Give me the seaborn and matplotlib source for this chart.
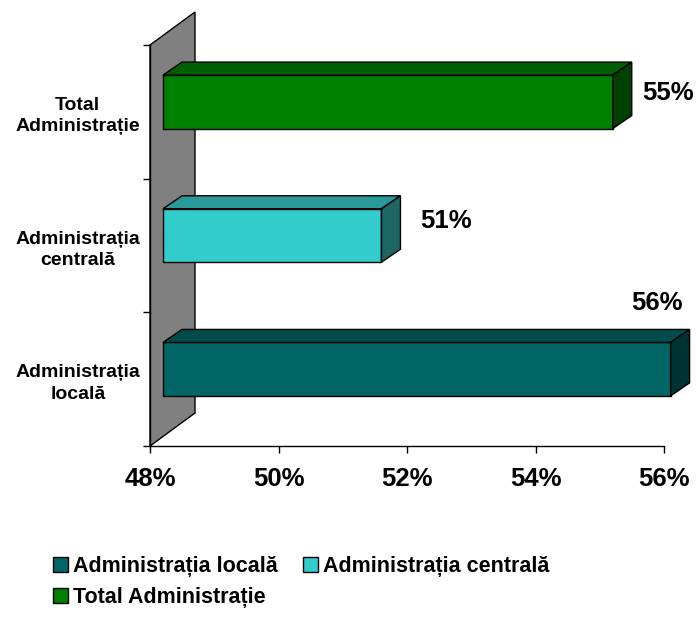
import matplotlib
matplotlib.use("Agg")
import matplotlib.pyplot as plt
import seaborn as sns
import pandas as pd
from matplotlib.patches import Polygon, Patch
from matplotlib.transforms import IdentityTransform, ScaledTranslation

categories = ["Total Administrație", "Administrația centrală", "Administrația locală"]
tick_labels = ["Total\nAdministrație", "Administrația\ncentrală", "Administrația\nlocală"]
values = [55.0, 51.4, 55.9]
value_labels = ["55%", "51%", "56%"]
x_ticks = [48, 50, 52, 54, 56]
legend_order = ["Administrația locală", "Total Administrație", "Administrația centrală"]

front_colors = ["#008000", "#33CCCC", "#006666"]
top_colors = ["#006000", "#299999", "#004C4C"]
side_colors = ["#004000", "#1E6666", "#003333"]

X_MIN, X_MAX = 48, 56
W, H = 696, 618

sns.set_style("white")
plt.rcParams["font.family"] = ["Liberation Sans", "DejaVu Sans"]
plt.rcParams["font.weight"] = "bold"
plt.rcParams["text.color"] = "black"
plt.rcParams["xtick.color"] = "black"
plt.rcParams["ytick.color"] = "black"

fig = plt.figure(figsize=(W / 100, H / 100), dpi=100)
ax = fig.add_axes([150 / W, 172 / H, 514 / W, 401 / H])

df = pd.DataFrame({"cat": categories, "val": values})
sns.barplot(data=df, x="val", y="cat", hue="cat", palette=front_colors, orient="h",
            width=0.4, legend=False, ax=ax, edgecolor="black", linewidth=1, saturation=1)

ax.set_xlim(X_MIN, X_MAX)
ax.set_ylim(2.5, -0.5)

# pseudo 3d: front face pushed into the wall, box depth in pixels
shift = (13, 10)
depth = (19, 13)
wall_depth = (45, 33)
ident = IdentityTransform()

bars = sorted(ax.patches, key=lambda p: p.get_y())
for i, p in enumerate(bars):
    p.set_width(p.get_width() - X_MIN)
    p.set_x(X_MIN)
    p.set_transform(ax.transData + ScaledTranslation(shift[0] / 100, shift[1] / 100, fig.dpi_scale_trans))
    p.set_clip_on(False)
    p.set_zorder(2)
    (xa, ya), (xb, yb) = ax.transData.transform([(p.get_x(), p.get_y()),
                                                  (p.get_x() + p.get_width(), p.get_y() + p.get_height())])
    xl, xr = min(xa, xb) + shift[0], max(xa, xb) + shift[0]
    ybot, ytop = min(ya, yb) + shift[1], max(ya, yb) + shift[1]
    top = Polygon([(xl, ytop), (xr, ytop), (xr + depth[0], ytop + depth[1]), (xl + depth[0], ytop + depth[1])],
                  closed=True, transform=ident, facecolor=top_colors[i], edgecolor="black", lw=1,
                  clip_on=False, zorder=2)
    side = Polygon([(xr, ytop), (xr, ybot), (xr + depth[0], ybot + depth[1]), (xr + depth[0], ytop + depth[1])],
                   closed=True, transform=ident, facecolor=side_colors[i], edgecolor="black", lw=1,
                   clip_on=False, zorder=2)
    ax.add_patch(top)
    ax.add_patch(side)

# gray side wall
(wx, wy0), (_, wy1) = ax.transData.transform([(X_MIN, 2.5), (X_MIN, -0.5)])
wall = Polygon([(wx, wy0), (wx, wy1), (wx + wall_depth[0], wy1 + wall_depth[1]), (wx + wall_depth[0], wy0 + wall_depth[1])],
               closed=True, transform=ident, facecolor="#808080", edgecolor="black", lw=1,
               clip_on=False, zorder=0.5)
ax.add_patch(wall)

# value labels
label_offsets = [(55, 9), (65, 14), (-14, 66)]
for i, p in enumerate(bars):
    (xr, yc) = ax.transData.transform((p.get_x() + p.get_width(), p.get_y() + p.get_height() / 2))
    ax.annotate(value_labels[i], xy=(xr + shift[0], yc + shift[1]), xycoords="figure pixels",
                xytext=label_offsets[i], textcoords="offset pixels",
                ha="center", va="center", fontsize=18.5, fontweight="bold", color="black",
                annotation_clip=False)

sns.despine(ax=ax, top=True, right=True)
for s in ["left", "bottom"]:
    ax.spines[s].set_color("black")
    ax.spines[s].set_linewidth(1)

ax.set_xticks(x_ticks)
ax.set_xticklabels([f"{t}%" for t in x_ticks])
ax.tick_params(axis="x", bottom=True, direction="out", length=5, width=1, labelsize=18.5, pad=10)

ax.set_yticks([0, 1, 2])
ax.set_yticklabels(tick_labels)
ax.set_yticks([-0.5, 0.5, 1.5, 2.5], minor=True)
ax.tick_params(axis="y", which="major", left=False, length=0, pad=52, labelsize=14)
ax.tick_params(axis="y", which="minor", left=True, direction="out", length=5, width=1)
for t in ax.get_yticklabels():
    t.set_ha("center")
    t.set_multialignment("center")
    t.set_linespacing(1.35)
    t.set_fontweight("bold")
ax.set_xlabel("")
ax.set_ylabel("")

color_map = dict(zip(categories, front_colors))
handles = [Patch(facecolor=color_map[c], edgecolor="black", lw=1) for c in legend_order]
fig.legend(handles, legend_order, loc="upper left", bbox_to_anchor=(53 / W, 1 - 556 / H), ncol=2,
           frameon=False, prop={"weight": "bold", "size": 15.5}, handlelength=0.7, handleheight=0.7,
           handletextpad=0.25, columnspacing=1.15, labelspacing=0.45, borderpad=0, borderaxespad=0)

fig.savefig("out.png", dpi=100)
plt.close(fig)
